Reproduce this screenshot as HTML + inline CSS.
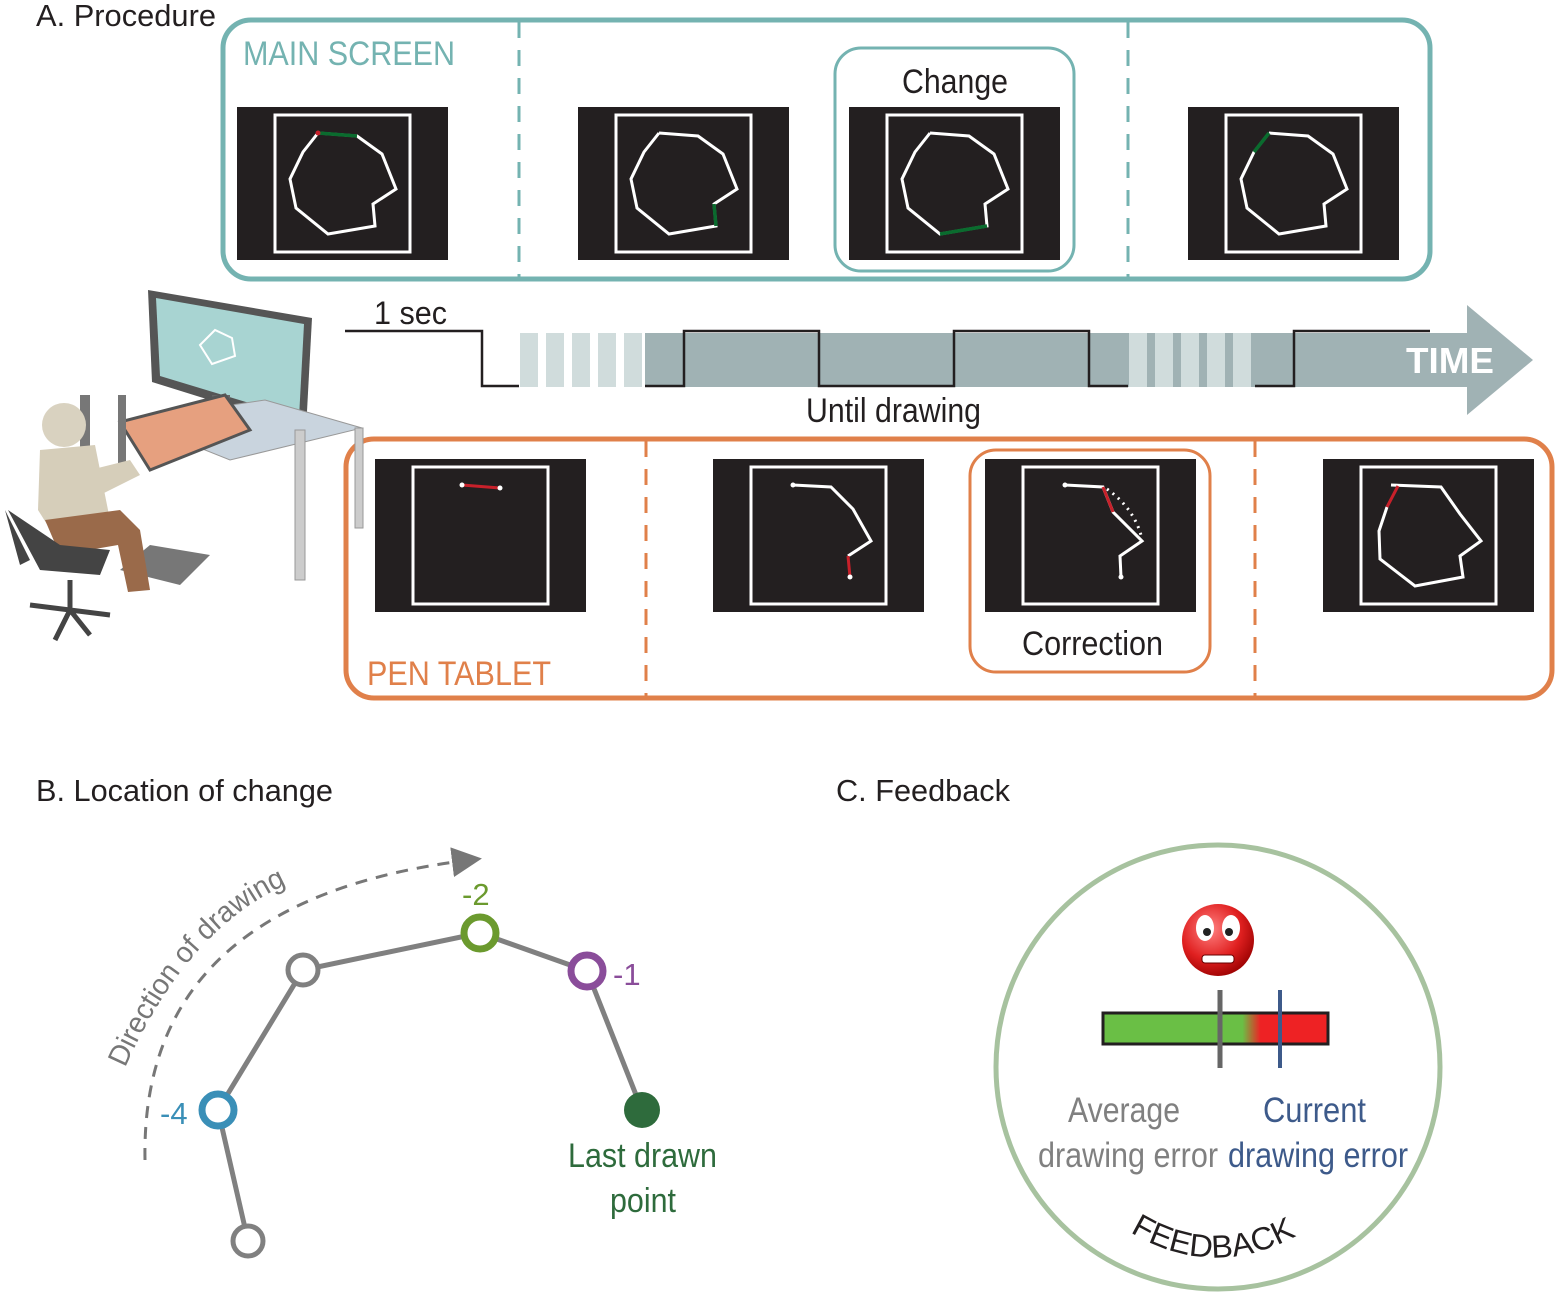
<!DOCTYPE html>
<html><head><meta charset="utf-8"><style>
html,body{margin:0;padding:0;background:#fff;width:1555px;height:1292px;overflow:hidden}
text{font-family:"Liberation Sans",sans-serif}
</style></head><body>
<svg width="1555" height="1292" viewBox="0 0 1555 1292" xmlns="http://www.w3.org/2000/svg">
<defs>
<g id="shape">
<rect x="0" y="0" width="211" height="153" fill="#231f20"/>
<rect x="38" y="8" width="135" height="137" fill="none" stroke="#fff" stroke-width="3"/>
</g>
<polyline id="poly" points="81,26 120,29 145,47 159,82 136,97 138,119 91,127 59,101 53,72 66,45 81,26" fill="none" stroke="#fff" stroke-width="3"/>
<marker id="ah" markerWidth="10" markerHeight="10" refX="6" refY="5" orient="auto"><path d="M0,0 L10,5 L0,10 Z" fill="#777"/></marker>
<path id="arcp" d="M125,1068 Q200,900 330,870"/>
<path id="fbp" d="M1130,1232 Q1218,1285 1310,1228"/>
<linearGradient id="bar" x1="0" x2="1"><stop offset="0" stop-color="#6abf45"/><stop offset="0.62" stop-color="#6abf45"/><stop offset="0.7" stop-color="#ee2224"/><stop offset="1" stop-color="#ee2224"/></linearGradient>
<radialGradient id="face" cx="0.4" cy="0.35" r="0.7"><stop offset="0" stop-color="#ff8080"/><stop offset="0.6" stop-color="#e02020"/><stop offset="1" stop-color="#900"/></radialGradient>
</defs>

<text x="36" y="26" font-size="31" fill="#231f20" textLength="180" lengthAdjust="spacingAndGlyphs">A. Procedure</text>

<!-- MAIN SCREEN -->
<rect x="223" y="20" width="1207" height="259" rx="28" fill="none" stroke="#74b3b1" stroke-width="5"/>
<line x1="519" y1="22" x2="519" y2="278" stroke="#74b3b1" stroke-width="3" stroke-dasharray="16,12"/>
<line x1="1128" y1="22" x2="1128" y2="278" stroke="#74b3b1" stroke-width="3" stroke-dasharray="16,12"/>
<rect x="835" y="48" width="239" height="223" rx="26" fill="none" stroke="#74b3b1" stroke-width="3"/>
<text x="243" y="65" font-size="34" fill="#74b3b1" textLength="212" lengthAdjust="spacingAndGlyphs">MAIN SCREEN</text>
<text x="902" y="93" font-size="34" fill="#231f20" textLength="106" lengthAdjust="spacingAndGlyphs">Change</text>

<g transform="translate(237,107)"><use href="#shape"/><use href="#poly"/><line x1="81" y1="26" x2="120" y2="29" stroke="#0a6b2e" stroke-width="3.5"/><circle cx="81" cy="26" r="2.5" fill="#c8202a"/></g>
<g transform="translate(578,107)"><use href="#shape"/><use href="#poly"/><line x1="136" y1="97" x2="138" y2="119" stroke="#0a6b2e" stroke-width="3.5"/></g>
<g transform="translate(849,107)"><use href="#shape"/><use href="#poly"/><line x1="91" y1="127" x2="138" y2="119" stroke="#0a6b2e" stroke-width="3.5"/></g>
<g transform="translate(1188,107)"><use href="#shape"/><use href="#poly"/><line x1="66" y1="45" x2="81" y2="26" stroke="#0a6b2e" stroke-width="3.5"/></g>

<!-- TIMELINE -->
<rect x="645" y="333" width="825" height="54" fill="#a0b2b4"/>
<path d="M1467,305 L1533,360 L1467,415 Z" fill="#a0b2b4"/>
<g fill="#d0dcdc">
<rect x="520" y="333" width="18" height="54"/><rect x="546" y="333" width="18" height="54"/><rect x="572" y="333" width="18" height="54"/><rect x="598" y="333" width="18" height="54"/><rect x="624" y="333" width="18" height="54"/>
<rect x="1129" y="333" width="18" height="54"/><rect x="1155" y="333" width="18" height="54"/><rect x="1181" y="333" width="18" height="54"/><rect x="1207" y="333" width="18" height="54"/><rect x="1233" y="333" width="18" height="54"/>
</g>
<polyline points="345,331 482,331 482,386 519,386" fill="none" stroke="#231f20" stroke-width="2.5"/>
<polyline points="645,386 684,386 684,331 819,331 819,386 954,386 954,331 1089,331 1089,386 1128,386" fill="none" stroke="#231f20" stroke-width="2.5"/>
<polyline points="1255,386 1294,386 1294,331 1430,331" fill="none" stroke="#231f20" stroke-width="2.5"/>
<text x="374" y="324" font-size="32" fill="#231f20" textLength="73" lengthAdjust="spacingAndGlyphs">1 sec</text>
<text x="806" y="422" font-size="34" fill="#231f20" textLength="175" lengthAdjust="spacingAndGlyphs">Until drawing</text>
<text x="1406" y="373" font-size="36" font-weight="bold" fill="#fff" textLength="88" lengthAdjust="spacingAndGlyphs">TIME</text>

<!-- PEN TABLET -->
<rect x="346" y="439" width="1206" height="259" rx="28" fill="none" stroke="#e0804a" stroke-width="5"/>
<line x1="646" y1="441" x2="646" y2="697" stroke="#e0804a" stroke-width="3" stroke-dasharray="16,12"/>
<line x1="1255" y1="441" x2="1255" y2="697" stroke="#e0804a" stroke-width="3" stroke-dasharray="16,12"/>
<rect x="970" y="450" width="240" height="222" rx="26" fill="none" stroke="#e0804a" stroke-width="3"/>
<text x="367" y="685" font-size="34" fill="#e0804a" textLength="184" lengthAdjust="spacingAndGlyphs">PEN TABLET</text>
<text x="1022" y="655" font-size="34" fill="#231f20" textLength="141" lengthAdjust="spacingAndGlyphs">Correction</text>

<g transform="translate(375,459)"><use href="#shape"/><line x1="87" y1="26" x2="125" y2="29" stroke="#c8202a" stroke-width="3"/><circle cx="87" cy="26" r="2.5" fill="#fff"/><circle cx="125" cy="29" r="2.5" fill="#fff"/></g>
<g transform="translate(713,459)"><use href="#shape"/><polyline points="80,26 118,28 140,50 158,82 135,97" fill="none" stroke="#fff" stroke-width="3"/><line x1="135" y1="97" x2="137" y2="118" stroke="#c8202a" stroke-width="3"/><circle cx="80" cy="26" r="2.5" fill="#fff"/><circle cx="137" cy="118" r="2.5" fill="#fff"/></g>
<g transform="translate(985,459)"><use href="#shape"/><polyline points="80,26 118,28 128,53 157,82 135,97 136,118" fill="none" stroke="#fff" stroke-width="3"/><line x1="118" y1="28" x2="128" y2="53" stroke="#c8202a" stroke-width="3"/><path d="M122,30 Q150,50 157,80" fill="none" stroke="#fff" stroke-width="3" stroke-dasharray="2,5"/><circle cx="80" cy="26" r="2.5" fill="#fff"/><circle cx="136" cy="118" r="2.5" fill="#fff"/></g>
<g transform="translate(1323,459)"><use href="#shape"/><polyline points="68,26 118,28 137,55 158,82 137,97 140,118 92,127 57,100 56,72 64,48" fill="none" stroke="#fff" stroke-width="3"/><line x1="64" y1="48" x2="75" y2="27" stroke="#c8202a" stroke-width="3"/></g>

<!-- person / desk illustration -->
<g>
<path d="M148,290 L312,318 L306,430 L152,382 Z" fill="#555"/>
<path d="M156,298 L304,324 L299,418 L160,376 Z" fill="#a8d4d2"/>
<path d="M200,345 L215,330 L232,338 L235,356 L212,364 Z" fill="none" stroke="#fff" stroke-width="2"/>
<rect x="212" y="395" width="18" height="35" fill="#666"/>
<path d="M130,420 L265,400 L362,428 L230,460 Z" fill="#c9d4de" stroke="#999"/>
<path d="M120,422 L225,395 L250,430 L150,470 Z" fill="#e6a07f" stroke="#555" stroke-width="3"/>
<rect x="295" y="430" width="10" height="150" fill="#ccc" stroke="#999"/>
<rect x="355" y="428" width="8" height="100" fill="#ccc" stroke="#999"/>
<rect x="80" y="395" width="10" height="120" fill="#777"/>
<rect x="118" y="395" width="8" height="80" fill="#777"/>
<path d="M150,545 L210,555 L180,585 L120,570 Z" fill="#777"/>
<circle cx="64" cy="425" r="22" fill="#d9d2c0"/>
<path d="M40,450 L95,445 L110,520 L60,545 L38,510 Z" fill="#d6ceba"/>
<path d="M90,470 L130,460 L140,475 L100,495 Z" fill="#d6ceba"/>
<path d="M45,520 L120,510 L140,530 L150,590 L128,592 L118,545 L60,555 Z" fill="#9a6a4a"/>
<path d="M8,510 L60,545 L110,550 L100,575 L40,570 Z" fill="#444"/>
<path d="M5,510 L30,560 L20,565 Z" fill="#444"/>
<path d="M70,580 L70,610 M70,610 L30,605 M70,610 L110,615 M70,610 L55,640 M70,610 L90,635" stroke="#444" stroke-width="5" fill="none"/>
</g>

<!-- B -->
<text x="36" y="801" font-size="31" fill="#231f20" textLength="297" lengthAdjust="spacingAndGlyphs">B. Location of change</text>
<path d="M145,1160 Q140,900 470,860" fill="none" stroke="#777" stroke-width="3" stroke-dasharray="12,9" marker-end="url(#ah)"/>
<text font-size="29" fill="#777"><textPath href="#arcp" textLength="250" lengthAdjust="spacingAndGlyphs">Direction of drawing</textPath></text>
<polyline points="248,1241 218,1110 303,970 480,933 587,971 642,1110" fill="none" stroke="#808080" stroke-width="5"/>
<circle cx="248" cy="1241" r="15" fill="#fff" stroke="#808080" stroke-width="5"/>
<circle cx="303" cy="970" r="15" fill="#fff" stroke="#808080" stroke-width="5"/>
<circle cx="218" cy="1110" r="16" fill="#fff" stroke="#3a8fb7" stroke-width="7"/>
<circle cx="480" cy="933" r="16" fill="#fff" stroke="#6b9a2e" stroke-width="7"/>
<circle cx="587" cy="971" r="16" fill="#fff" stroke="#8a4d9a" stroke-width="7"/>
<circle cx="642" cy="1110" r="18" fill="#2e6b3c"/>
<text x="160" y="1124" font-size="31" fill="#3a8fb7">-4</text>
<text x="462" y="905" font-size="31" fill="#6b9a2e">-2</text>
<text x="613" y="985" font-size="31" fill="#8a4d9a">-1</text>
<text x="568" y="1167" font-size="34" fill="#2e6b3c" textLength="149" lengthAdjust="spacingAndGlyphs">Last drawn</text>
<text x="610" y="1212" font-size="34" fill="#2e6b3c" textLength="66" lengthAdjust="spacingAndGlyphs">point</text>

<!-- C -->
<text x="836" y="801" font-size="31" fill="#231f20" textLength="174" lengthAdjust="spacingAndGlyphs">C. Feedback</text>
<circle cx="1218" cy="1067" r="222" fill="none" stroke="#a7c29f" stroke-width="5"/>
<rect x="1103" y="1013" width="225" height="31" fill="url(#bar)" stroke="#231f20" stroke-width="3"/>
<line x1="1220" y1="990" x2="1220" y2="1068" stroke="#666" stroke-width="5"/>
<line x1="1280" y1="990" x2="1280" y2="1068" stroke="#3d5a8a" stroke-width="4"/>
<circle cx="1218" cy="940" r="36" fill="url(#face)"/>
<ellipse cx="1205" cy="928" rx="9" ry="13" fill="#fff"/><ellipse cx="1231" cy="928" rx="9" ry="13" fill="#fff"/>
<circle cx="1207" cy="932" r="4" fill="#222"/><circle cx="1229" cy="932" r="4" fill="#222"/>
<rect x="1202" y="955" width="32" height="8" rx="3" fill="#fff" stroke="#600"/>
<text x="1068" y="1122" font-size="35" fill="#808080" textLength="112" lengthAdjust="spacingAndGlyphs">Average</text>
<text x="1038" y="1167" font-size="35" fill="#808080" textLength="180" lengthAdjust="spacingAndGlyphs">drawing error</text>
<text x="1263" y="1122" font-size="35" fill="#3d5a8a" textLength="103" lengthAdjust="spacingAndGlyphs">Current</text>
<text x="1228" y="1167" font-size="35" fill="#3d5a8a" textLength="180" lengthAdjust="spacingAndGlyphs">drawing error</text>
<text font-size="32" fill="#231f20"><textPath href="#fbp" textLength="175" lengthAdjust="spacingAndGlyphs">FEEDBACK</textPath></text>
</svg>
</body></html>
